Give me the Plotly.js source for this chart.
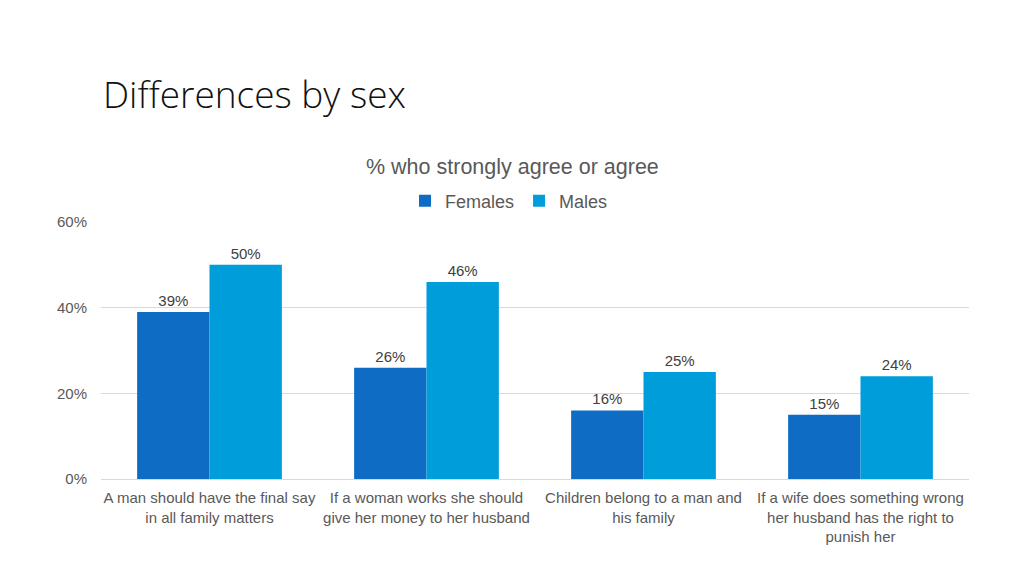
<!DOCTYPE html>
<html>
<head>
<meta charset="utf-8">
<script src="https://cdn.plot.ly/plotly-3.0.1.min.js"></script>
<style>html,body{margin:0;padding:0;background:#fff;}#chart{width:1024px;height:576px;}</style>
</head>
<body>
<div id="chart"></div>
<script>
const categories = [
  "A man should have the final say<br>in all family matters",
  "If a woman works she should<br>give her money to her husband",
  "Children belong to a man and<br>his family",
  "If a wife does something wrong<br>her husband has the right to<br>punish her"
];
const females = [39, 26, 16, 15];
const males = [50, 46, 25, 24];
const yTicks = [0, 20, 40, 60];
const yTickLabels = ["0%", "20%", "40%", "60%"];

const labelFont = {family: "Liberation Sans, Arial, sans-serif", size: 15, color: "#404040"};

const traces = [
  {
    type: "bar", name: "Females", x: categories, y: females,
    marker: {color: "#0F6CC5"},
    text: females.map(v => v + "%"), textposition: "outside",
    textfont: labelFont, cliponaxis: false, hoverinfo: "none"
  },
  {
    type: "bar", name: "Males", x: categories, y: males,
    marker: {color: "#009DDB"},
    text: males.map(v => v + "%"), textposition: "outside",
    textfont: labelFont, cliponaxis: false, hoverinfo: "none"
  }
];

const layout = {
  width: 1024, height: 576,
  paper_bgcolor: "#ffffff", plot_bgcolor: "#ffffff",
  margin: {l: 101, r: 55, t: 222, b: 97},
  barmode: "group", bargap: 0.333, bargroupgap: 0,
  font: {family: "Liberation Sans, Arial, sans-serif", color: "#595959"},
  title: {
    text: "Differences by sex",
    font: {family: "Open Sans, sans-serif", size: 37, color: "#111111", weight: 300},
    x: 103/1024, xanchor: "left", xref: "container",
    y: 1 - 95/576, yanchor: "middle", yref: "container"
  },
  showlegend: true,
  legend: {
    orientation: "h", x: (509 - 101) / 868, xanchor: "center", y: 1 + 21/257, yanchor: "middle",
    font: {size: 18, color: "#595959"}, itemclick: false, traceorder: "normal"
  },
  annotations: [{
    text: "% who strongly agree or agree",
    xref: "paper", yref: "paper", x: (512 - 101) / 868, xanchor: "center",
    y: 1 + (222 - 167) / 257, yanchor: "middle", showarrow: false,
    font: {size: 21.5, color: "#595959"}
  }],
  xaxis: {
    showgrid: false, showline: true, linecolor: "#D9D9D9", linewidth: 1,
    tickfont: {size: 15, color: "#595959"}, ticks: "", fixedrange: true,
    ticklabelstandoff: 5
  },
  yaxis: {
    range: [0, 60], tickvals: yTicks, ticktext: yTickLabels,
    showgrid: true, gridcolor: "#D9D9D9", gridwidth: 1, zeroline: false,
    showline: false, tickfont: {size: 15, color: "#595959"}, ticks: "",
    ticklabelstandoff: 13, fixedrange: true
  }
};

Plotly.newPlot("chart", traces, layout, {displayModeBar: false, staticPlot: true});
</script>
</body>
</html>
